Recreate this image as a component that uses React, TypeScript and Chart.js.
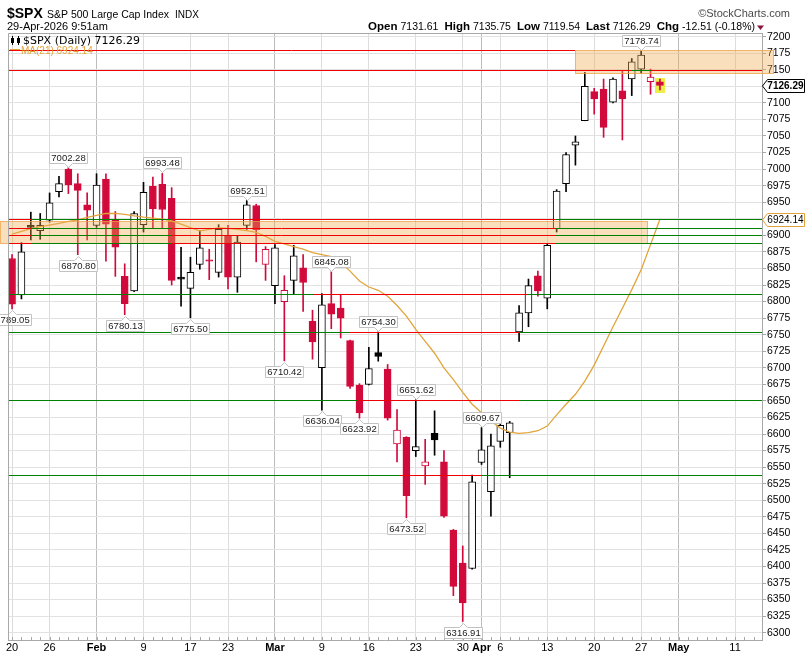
import React, { useEffect, useRef } from "react";
import { Chart, registerables } from "chart.js";

Chart.register(...registerables);

// ---------- data ----------
const dates = [
  "Jan 20", "Jan 21", "Jan 22", "Jan 23", "Jan 26", "Jan 27", "Jan 28", "Jan 29", "Jan 30",
  "Feb 2", "Feb 3", "Feb 4", "Feb 5", "Feb 6", "Feb 9", "Feb 10", "Feb 11", "Feb 12", "Feb 13",
  "Feb 17", "Feb 18", "Feb 19", "Feb 20", "Feb 23", "Feb 24", "Feb 25", "Feb 26", "Feb 27",
  "Mar 2", "Mar 3", "Mar 4", "Mar 5", "Mar 6", "Mar 9", "Mar 10", "Mar 11", "Mar 12", "Mar 13",
  "Mar 16", "Mar 17", "Mar 18", "Mar 19", "Mar 20", "Mar 23", "Mar 24", "Mar 25", "Mar 26", "Mar 27",
  "Mar 30", "Mar 31", "Apr 1", "Apr 2", "Apr 6", "Apr 7", "Apr 8", "Apr 9", "Apr 10",
  "Apr 13", "Apr 14", "Apr 15", "Apr 16", "Apr 17", "Apr 20", "Apr 21", "Apr 22", "Apr 23", "Apr 24",
  "Apr 27", "Apr 28", "Apr 29",
];
const opens = [
  6865, 6810, 6915, 6907, 6923, 6966, 7000, 6978, 6946,
  6915, 6985, 6924, 6838, 6816, 6916, 6974, 6977, 6956, 6837,
  6820, 6856, 6863, 6844, 6900, 6837, 6915, 6945, 6856,
  6824, 6800, 6832, 6851, 6770, 6700, 6797, 6790, 6741, 6674,
  6675, 6723, 6698, 6585, 6595, 6575, 6552, 6601, 6558, 6455,
  6405, 6397, 6557, 6513, 6589, 6602, 6754, 6783, 6839,
  6805, 6910, 6978, 7036, 7073, 7117, 7121, 7101, 7118, 7136,
  7151, 7132, 7131.61,
];
const highs = [
  6871, 6889, 6935, 6933, 6964, 6989, 7002.28, 6993, 6964,
  6993, 6993, 6936, 6857, 6936, 6980, 6988, 6993.48, 6972, 6882,
  6867, 6907, 6879, 6916, 6915, 6899, 6952.51, 6947, 6883,
  6886, 6839, 6885, 6871, 6787, 6812, 6845.08, 6811, 6742, 6676,
  6731, 6754.3, 6705, 6637, 6596, 6651.62, 6592, 6635, 6575, 6456,
  6431, 6538, 6609.67, 6600, 6618, 6619, 6794, 6834, 6846,
  6888, 6969, 7025, 7050, 7146, 7122, 7136, 7138, 7149, 7167,
  7178.74, 7151, 7135.75,
];
const lows = [
  6789.05, 6804, 6893, 6894, 6920, 6958, 6963, 6870.8, 6893,
  6912, 6861, 6838, 6780.13, 6815, 6905, 6911, 6911, 6825, 6793,
  6775.5, 6849, 6833, 6837, 6819, 6814, 6909, 6860, 6832,
  6797, 6710.42, 6812, 6785, 6713, 6636.04, 6759, 6745, 6669, 6623.92,
  6674, 6710, 6621, 6558, 6473.52, 6566, 6524, 6568, 6474, 6356,
  6316.91, 6396, 6554, 6476, 6580, 6534, 6740, 6762, 6808,
  6789, 6905, 6966, 7006, 7073, 7083, 7048, 7100, 7044, 7111,
  7145, 7113, 7119.54,
];
const closes = [
  6796, 6875, 6912, 6915, 6949, 6978, 6976, 6968, 6938,
  6976, 6917, 6882, 6797, 6933, 6965, 6940, 6939, 6832, 6834,
  6844, 6881, 6861, 6909, 6837, 6890, 6946, 6908, 6879,
  6881, 6817, 6869, 6829, 6739, 6795, 6781, 6775, 6672, 6632,
  6699, 6717, 6624, 6606, 6507, 6581, 6558, 6591, 6476, 6370,
  6345, 6528, 6576, 6582, 6613, 6617, 6783, 6824, 6816,
  6885, 6967, 7022, 7041, 7125, 7106, 7063, 7136, 7106, 7162,
  7172, 7138.8, 7126.29,
];
const ma21 = [
  6902, 6906, 6910, 6913, 6915.5, 6918, 6921, 6923.5, 6927,
  6930, 6933, 6933.3, 6931.5, 6929.5, 6927.5, 6926, 6924.5, 6922, 6917,
  6911.5, 6906.8, 6909, 6911.3, 6910.5, 6909, 6907, 6904.5, 6898.5,
  6891, 6887, 6883, 6879, 6874, 6871, 6868, 6859, 6846, 6831,
  6822, 6817, 6808, 6794, 6778, 6758, 6740, 6722, 6700, 6682,
  6663, 6645, 6632, 6620, 6609, 6603, 6601, 6602, 6605,
  6612, 6629, 6645, 6660, 6680, 6704, 6733, 6762, 6790, 6818,
  6848, 6886, 6924.14,
];
const priorClose = 6942;

const xTickIndex = [0, 4, 9, 14, 19, 23, 28, 33, 38, 43, 48, 50, 52, 57, 62, 67, 71, 77];
const xTickText = ["20", "26", "Feb", "9", "17", "23", "Mar", "9", "16", "23", "30", "Apr", "6", "13", "20", "27", "May", "11"];
const monthNames = ["Feb", "Mar", "Apr", "May"];
const yTickValues = [
  6300, 6325, 6350, 6375, 6400, 6425, 6450, 6475, 6500, 6525, 6550, 6575, 6600, 6625, 6650, 6675,
  6700, 6725, 6750, 6775, 6800, 6825, 6850, 6875, 6900, 6925, 6950, 6975, 7000, 7025, 7050, 7075,
  7100, 7125, 7150, 7175, 7200,
];

const calloutIndex = [0, 6, 7, 12, 16, 19, 25, 29, 33, 34, 37, 39, 42, 43, 48, 50, 67];
const calloutText = ["6789.05", "7002.28", "6870.80", "6780.13", "6993.48", "6775.50", "6952.51", "6710.42", "6636.04", "6845.08", "6623.92", "6754.30", "6473.52", "6651.62", "6316.91", "6609.67", "7178.74"];
const calloutAbove = [false, true, false, false, true, false, true, false, false, true, false, true, false, true, false, true, true];

const levelValue = [
  7180, 7150, 7150,
  6924.3, 6924.3, 6924.3, 6910.7, 6910.7, 6910.7, 6900.1, 6900.1, 6900.1, 6888.1, 6888.1, 6888.1,
  6811, 6811, 6811, 6753.8, 6753.8, 6753.8, 6650.9, 6650.9, 6650.9, 6538, 6538, 6538,
];
const levelFrom = [
  -0.43, -0.43, 65.9,
  -0.43, 57.83, 2.13, -0.43, 57.83, 2.13, -0.43, 57.83, 2.13, -0.43, 57.83, 2.13,
  -0.43, 32.06, 54.95, -0.43, 36.0, 54.0, -0.43, 36.85, 54.0, -0.43, 41.3, 50.05,
];
const levelTo = [
  59.96, 79.87, 68.0,
  57.83, 79.87, 17.04, 57.83, 79.87, 17.04, 57.83, 79.87, 17.04, 57.83, 79.87, 17.04,
  32.06, 54.95, 79.87, 36.0, 54.0, 79.87, 36.85, 54.0, 79.87, 41.3, 50.05, 79.87,
];
const levelColor = [
  "r", "r", "g",
  "r", "g", "g", "r", "g", "g", "r", "g", "g", "r", "g", "g",
  "g", "r", "g", "g", "r", "g", "g", "r", "g", "g", "r", "g",
];

const zoneLow = [7145.5, 6889];
const zoneHigh = [7180, 6922.2];
const zoneFrom = [59.96, -1.28];
const zoneTo = [81.04, 67.59];

const headerSymbol = "$SPX";
const headerName = "S&P 500 Large Cap Index";
const headerExchange = "INDX";
const headerStamp = "29-Apr-2026 9:51am";
const quoteKeys = ["Open", "High", "Low", "Last", "Chg"];
const quoteValues = ["7131.61", "7135.75", "7119.54", "7126.29", "-12.51 (-0.18%)"];
const legendMain = "$SPX (Daily) 7126.29";
const legendMA = "MA(21) 6924.14";
const lastPriceText = "7126.29";
const maLastText = "6924.14";

// ---------- styling ----------
const RED = "#d20a3c";
const BLACK = "#000000";
const LINE_RED = "#f00000";
const LINE_GREEN = "#008000";
const MA_COLOR = "#e2a43a";
const X_MIN = -0.43;
const X_MAX = 79.87;

const candleColor = closes.map((c, i) => (c >= (i ? closes[i - 1] : priorClose) ? BLACK : RED));
const candleHollow = closes.map((c, i) => c > opens[i]);

function callout(ctx: CanvasRenderingContext2D, cx: number, tipY: number, text: string, above: boolean) {
  ctx.font = '9.5px "Liberation Sans", Arial, sans-serif';
  const tw = ctx.measureText(text).width;
  const w = Math.round(tw + 4);
  const h = 11;
  const left = Math.round(cx - w / 2) + 0.5;
  const mid = Math.round(cx) + 0.5;
  ctx.beginPath();
  let textY: number;
  if (above) {
    const base = Math.round(tipY) - 5 + 0.5;
    const top = base - h;
    const tip = Math.round(tipY) - 1 + 0.5;
    ctx.moveTo(left, top);
    ctx.lineTo(left + w, top);
    ctx.lineTo(left + w, base);
    ctx.lineTo(mid + 4, base);
    ctx.lineTo(mid, tip);
    ctx.lineTo(mid - 4, base);
    ctx.lineTo(left, base);
    ctx.closePath();
    textY = top + h / 2 + 0.5;
  } else {
    const base = Math.round(tipY) + 5 + 0.5;
    const tip = Math.round(tipY) + 1 + 0.5;
    ctx.moveTo(left, base);
    ctx.lineTo(mid - 4, base);
    ctx.lineTo(mid, tip);
    ctx.lineTo(mid + 4, base);
    ctx.lineTo(left + w, base);
    ctx.lineTo(left + w, base + h);
    ctx.lineTo(left, base + h);
    ctx.closePath();
    textY = base + h / 2 + 0.5;
  }
  ctx.fillStyle = "#ffffff";
  ctx.fill();
  ctx.strokeStyle = "#c2c2c2";
  ctx.lineWidth = 1;
  ctx.stroke();
  ctx.fillStyle = "#1a1a1a";
  ctx.textAlign = "center";
  ctx.textBaseline = "middle";
  ctx.fillText(text, Math.round(cx) + 0.5, textY);
}

function tag(ctx: CanvasRenderingContext2D, x0: number, py: number, text: string, font: string, border: string) {
  const h = 13;
  const yTop = Math.round(py - h / 2) + 0.5;
  const cy = yTop + h / 2;
  ctx.beginPath();
  ctx.moveTo(x0, cy);
  ctx.lineTo(x0 + 5, yTop);
  ctx.lineTo(804.5, yTop);
  ctx.lineTo(804.5, yTop + h);
  ctx.lineTo(x0 + 5, yTop + h);
  ctx.closePath();
  ctx.fillStyle = "#ffffff";
  ctx.fill();
  ctx.strokeStyle = border;
  ctx.lineWidth = 1;
  ctx.stroke();
  ctx.font = font;
  ctx.fillStyle = "#000";
  ctx.textAlign = "right";
  ctx.textBaseline = "middle";
  ctx.fillText(text, 803.5, cy + 0.5);
}

const overlayPlugin = {
  id: "overlay",
  beforeDatasetsDraw(chart: any) {
    const { ctx, chartArea: a, scales } = chart;
    const x = scales.x;
    const y = scales.y;
    ctx.save();
    ctx.strokeStyle = "#a8a8a8";
    ctx.lineWidth = 1;
    for (let i = 0; i <= 79; i++) {
      const px = Math.round(x.getPixelForValue(i)) + 0.5;
      ctx.beginPath();
      ctx.moveTo(px, a.bottom - 3);
      ctx.lineTo(px, a.bottom);
      ctx.stroke();
    }
    const li = closes.length - 1;
    const cx = x.getPixelForValue(li);
    const top = y.getPixelForValue(highs[li]) - 1;
    const bot = y.getPixelForValue(lows[li]) + 3;
    ctx.fillStyle = "#eeee48";
    ctx.fillRect(Math.round(cx - 4.5), Math.round(top), 10, Math.round(bot - top));
    ctx.restore();
  },
  afterDatasetsDraw(chart: any) {
    const { ctx, scales } = chart;
    const x = scales.x;
    const y = scales.y;
    ctx.save();
    for (let i = 0; i < zoneLow.length; i++) {
      const l = Math.round(x.getPixelForValue(zoneFrom[i])) + 0.5;
      const r = Math.round(x.getPixelForValue(zoneTo[i])) + 0.5;
      const t = Math.round(y.getPixelForValue(zoneHigh[i])) + 0.5;
      const b = Math.round(y.getPixelForValue(zoneLow[i])) + 0.5;
      ctx.fillStyle = "rgba(240,170,80,0.38)";
      ctx.fillRect(l, t, r - l, b - t);
      ctx.strokeStyle = "rgba(236,160,70,0.75)";
      ctx.lineWidth = 1;
      ctx.strokeRect(l, t, r - l, b - t);
    }
    for (let i = 0; i < levelValue.length; i++) {
      const py = Math.round(y.getPixelForValue(levelValue[i])) + 0.5;
      const x1 = x.getPixelForValue(levelFrom[i]);
      const x2 = x.getPixelForValue(levelTo[i]);
      ctx.strokeStyle = levelColor[i] === "r" ? LINE_RED : LINE_GREEN;
      ctx.lineWidth = 1;
      ctx.beginPath();
      ctx.moveTo(Math.round(x1), py);
      ctx.lineTo(Math.round(x2), py);
      ctx.stroke();
    }
    for (let i = 0; i < calloutIndex.length; i++) {
      const idx = calloutIndex[i];
      const above = calloutAbove[i];
      const val = above ? highs[idx] : lows[idx];
      callout(ctx, x.getPixelForValue(idx), y.getPixelForValue(val), calloutText[i], above);
    }
    ctx.restore();
  },
  afterDraw(chart: any) {
    const { ctx, chartArea: a, scales } = chart;
    const y = scales.y;
    ctx.save();
    ctx.strokeStyle = "#a8a8a8";
    ctx.lineWidth = 1;
    ctx.beginPath();
    ctx.moveTo(a.left + 0.5, a.bottom);
    ctx.lineTo(a.left + 0.5, a.top + 0.5);
    ctx.lineTo(a.right, a.top + 0.5);
    ctx.stroke();

    ctx.textBaseline = "alphabetic";
    ctx.textAlign = "left";
    ctx.fillStyle = "#000";
    ctx.font = 'bold 14px "Liberation Sans", Arial, sans-serif';
    ctx.fillText(headerSymbol, 7, 18);
    ctx.font = '10.5px "Liberation Sans", Arial, sans-serif';
    ctx.fillText(headerName, 47, 18);
    ctx.font = '10px "Liberation Sans", Arial, sans-serif';
    ctx.fillText(headerExchange, 175, 18);
    ctx.font = '11px "Liberation Sans", Arial, sans-serif';
    ctx.fillText(headerStamp, 7, 30);
    ctx.fillStyle = "#4a4a4a";
    ctx.textAlign = "right";
    ctx.fillText("\u00a9StockCharts.com", 790, 17);
    ctx.textAlign = "left";

    const keyFont = 'bold 11.5px "Liberation Sans", Arial, sans-serif';
    const valFont = '10.5px "Liberation Sans", Arial, sans-serif';
    let total = 0;
    const pieces: { t: string; f: string; w: number; gap: number }[] = [];
    for (let i = 0; i < quoteKeys.length; i++) {
      ctx.font = keyFont;
      const kw = ctx.measureText(quoteKeys[i]).width;
      pieces.push({ t: quoteKeys[i], f: keyFont, w: kw, gap: 3 });
      ctx.font = valFont;
      const vw = ctx.measureText(quoteValues[i]).width;
      pieces.push({ t: quoteValues[i], f: valFont, w: vw, gap: i < quoteKeys.length - 1 ? 6 : 0 });
    }
    for (const p of pieces) total += p.w + p.gap;
    let qx = 755 - total;
    ctx.fillStyle = "#000";
    for (const p of pieces) {
      ctx.font = p.f;
      ctx.fillText(p.t, qx, 30);
      qx += p.w + p.gap;
    }
    ctx.fillStyle = "#8a1538";
    ctx.beginPath();
    ctx.moveTo(757, 25.5);
    ctx.lineTo(764, 25.5);
    ctx.lineTo(760.5, 30);
    ctx.closePath();
    ctx.fill();

    ctx.strokeStyle = "#000";
    ctx.fillStyle = "#000";
    ctx.lineWidth = 1;
    ctx.beginPath();
    ctx.moveTo(12.5, 36);
    ctx.lineTo(12.5, 45);
    ctx.moveTo(18.5, 36);
    ctx.lineTo(18.5, 45);
    ctx.stroke();
    ctx.fillRect(11, 38, 3, 5);
    ctx.strokeRect(17.5, 38.5, 2, 4);
    ctx.font = '11px "DejaVu Sans", sans-serif';
    ctx.fillText(legendMain, 23, 44);
    ctx.strokeStyle = MA_COLOR;
    ctx.beginPath();
    ctx.moveTo(10, 49.5);
    ctx.lineTo(20, 49.5);
    ctx.stroke();
    ctx.fillStyle = MA_COLOR;
    ctx.font = '10px "Liberation Sans", Arial, sans-serif';
    ctx.fillText(legendMA, 21, 53.5);

    tag(ctx, a.right + 0.5, y.getPixelForValue(closes[closes.length - 1]), lastPriceText, 'bold 10px "Liberation Sans", Arial, sans-serif', "#000");
    tag(ctx, a.right + 0.5, y.getPixelForValue(ma21[ma21.length - 1]), maLastText, '10px "Liberation Sans", Arial, sans-serif', "#e0a040");
    ctx.restore();
  },
};

export default function App() {
  const canvasRef = useRef<HTMLCanvasElement | null>(null);

  useEffect(() => {
    if (!canvasRef.current) return;
    const bodyData = opens.map((o, i) => ({ x: i, y: [o, closes[i]] }));
    const wickData = lows.map((l, i) => ({ x: i, y: [l, highs[i]] }));
    const maData = ma21.map((v, i) => ({ x: i, y: v }));

    const chart = new Chart(canvasRef.current, {
      type: "bar",
      data: {
        labels: dates,
        datasets: [
          {
            type: "line",
            label: "MA(21)",
            data: maData as any,
            borderColor: MA_COLOR,
            borderWidth: 1.3,
            pointRadius: 0,
            tension: 0,
            fill: false,
          } as any,
          {
            type: "bar",
            label: "body",
            data: bodyData as any,
            backgroundColor: candleHollow.map((h, i) => (h ? "#ffffff" : candleColor[i])),
            borderColor: candleColor,
            borderWidth: 1,
            borderSkipped: false,
            barThickness: 7,
            minBarLength: 1,
            grouped: false,
          } as any,
          {
            type: "bar",
            label: "wick",
            data: wickData as any,
            backgroundColor: candleColor,
            borderWidth: 0,
            barThickness: 1,
            grouped: false,
          } as any,
        ],
      },
      options: {
        animation: false,
        responsive: true,
        maintainAspectRatio: false,
        events: [],
        layout: { padding: { left: 8, top: 33, right: 0, bottom: 0 } },
        plugins: { legend: { display: false }, tooltip: { enabled: false }, title: { display: false } },
        scales: {
          x: {
            type: "linear",
            min: X_MIN,
            max: X_MAX,
            offset: false,
            afterBuildTicks: (scale: any) => {
              scale.ticks = xTickIndex.map((v) => ({ value: v }));
            },
            afterFit: (scale: any) => {
              scale.height = 18;
              scale.paddingLeft = 0;
              scale.paddingRight = 0;
            },
            ticks: {
              autoSkip: false,
              maxRotation: 0,
              minRotation: 0,
              padding: 1,
              color: "#000",
              callback: (v: any) => {
                const k = xTickIndex.indexOf(Number(v));
                return k >= 0 ? xTickText[k] : "";
              },
              font: (c: any) => ({
                family: '"Liberation Sans", Arial, sans-serif',
                size: 11,
                weight: monthNames.includes(xTickText[c.index]) ? "bold" : "normal",
              }),
            },
            grid: {
              offset: false,
              drawTicks: false,
              color: (c: any) => (monthNames.includes(xTickText[c.index]) ? "#bcbcbc" : "#dcdcdc"),
              lineWidth: 1,
            },
            border: { display: true, color: "#a8a8a8" },
          } as any,
          y: {
            type: "linear",
            position: "right",
            min: 6289,
            max: 7205.5,
            afterBuildTicks: (scale: any) => {
              scale.ticks = yTickValues.map((v) => ({ value: v }));
            },
            afterFit: (scale: any) => {
              scale.width = 43;
              scale.paddingTop = 0;
              scale.paddingBottom = 0;
            },
            ticks: {
              padding: 1,
              color: "#000",
              font: { family: '"Liberation Sans", Arial, sans-serif', size: 10.5 },
              callback: (v: any) => String(v),
            },
            grid: { color: "#e2e2e2", tickLength: 4, tickColor: "#a8a8a8", drawTicks: true },
            border: { display: true, color: "#a8a8a8" },
          } as any,
        },
      },
      plugins: [overlayPlugin],
    });
    return () => chart.destroy();
  }, []);

  return (
    <div style={{ position: "absolute", left: 0, top: 0, width: 805, height: 658, background: "#fff" }}>
      <canvas ref={canvasRef} />
    </div>
  );
}
